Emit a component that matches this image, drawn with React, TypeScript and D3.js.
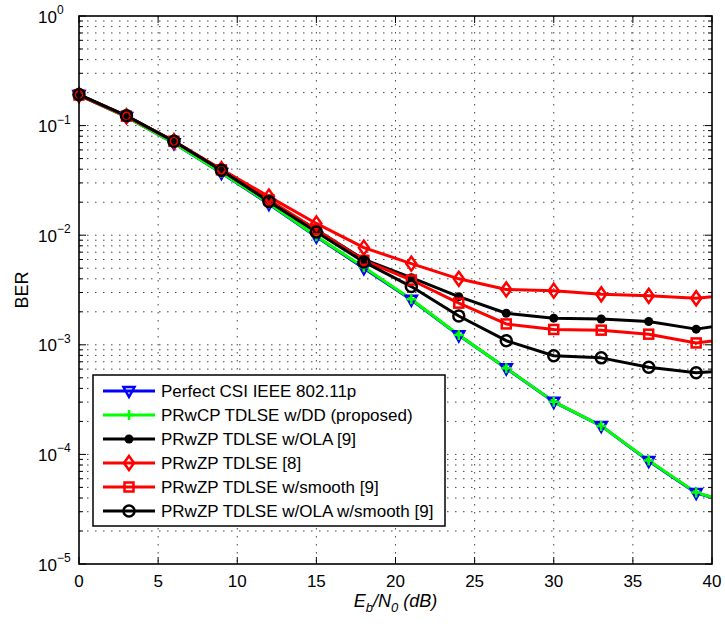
import React from "react";
import * as d3 from "d3";

// Eb/N0 points (dB); last point lies past the axis and is clipped like in the original
const snr = [0, 3, 6, 9, 12, 15, 18, 21, 24, 27, 30, 33, 36, 39, 42];

const perfectCsi = [0.19, 0.12, 0.069, 0.037, 0.0193, 0.0097, 0.005, 0.00258, 0.00122, 0.00061, 0.000302, 0.000182, 0.000087, 0.0000445, 0.0000337];
const prwcpDD = [0.19, 0.12, 0.069, 0.0372, 0.0195, 0.0098, 0.0051, 0.0026, 0.00123, 0.00061, 0.000303, 0.000182, 0.000088, 0.0000448, 0.0000338];
const prwzpOla = [0.192, 0.123, 0.072, 0.0392, 0.0205, 0.0112, 0.006, 0.0041, 0.00275, 0.00194, 0.00175, 0.00172, 0.00163, 0.00139, 0.00161];
const prwzpPlain = [0.19, 0.122, 0.072, 0.04, 0.0225, 0.0128, 0.0077, 0.0055, 0.004, 0.0032, 0.00312, 0.00289, 0.0028, 0.00266, 0.00294];
const prwzpSmooth = [0.19, 0.122, 0.072, 0.0395, 0.021, 0.0112, 0.0059, 0.0039, 0.0024, 0.00155, 0.00138, 0.00136, 0.00125, 0.00104, 0.00118];
const prwzpOlaSmooth = [0.192, 0.123, 0.072, 0.0392, 0.0203, 0.0107, 0.0057, 0.0034, 0.00183, 0.00109, 0.000795, 0.00076, 0.000623, 0.000557, 0.000593];

const legendLabels = [
  "Perfect CSI IEEE 802.11p",
  "PRwCP TDLSE w/DD (proposed)",
  "PRwZP TDLSE w/OLA [9]",
  "PRwZP TDLSE [8]",
  "PRwZP TDLSE w/smooth [9]",
  "PRwZP TDLSE w/OLA w/smooth [9]",
];
const xTicks = [0, 5, 10, 15, 20, 25, 30, 35, 40];
const yExponents = [0, -1, -2, -3, -4, -5];

const series = [
  { values: perfectCsi, color: "#0000ff", marker: "tri" },
  { values: prwcpDD, color: "#00ff00", marker: "plus" },
  { values: prwzpOla, color: "#000000", marker: "dot" },
  { values: prwzpPlain, color: "#ff0000", marker: "diamond" },
  { values: prwzpSmooth, color: "#ff0000", marker: "square" },
  { values: prwzpOlaSmooth, color: "#000000", marker: "circle" },
];

const W = 725, H = 626;
const left = 79, right = 712, top = 16, bottom = 564;
const font = "'Liberation Sans', Arial, Helvetica, sans-serif";

function Marker({ type, color, x, y }: { type: string; color: string; x: number; y: number }) {
  const sw = 2.5;
  if (type === "tri")
    return <path d={`M${x - 5.5},${y - 4}L${x + 5.5},${y - 4}L${x},${y + 6}Z`} fill="none" stroke={color} strokeWidth={sw} strokeLinejoin="miter" />;
  if (type === "plus")
    return <path d={`M${x - 5},${y}H${x + 5}M${x},${y - 5}V${y + 5}`} stroke={color} strokeWidth={sw} />;
  if (type === "dot") return <circle cx={x} cy={y} r={4.5} fill={color} />;
  if (type === "diamond")
    return <path d={`M${x},${y - 7}L${x + 5},${y}L${x},${y + 7}L${x - 5},${y}Z`} fill="none" stroke={color} strokeWidth={sw} />;
  if (type === "square")
    return <rect x={x - 4.5} y={y - 4.5} width={9} height={9} fill="none" stroke={color} strokeWidth={sw} />;
  return <circle cx={x} cy={y} r={5.5} fill="none" stroke={color} strokeWidth={sw} />;
}

export default function App() {
  const x = d3.scaleLinear().domain([0, 40]).range([left, right]);
  const y = d3.scaleLog().domain([1e-5, 1]).range([bottom, top]);
  const line = d3
    .line<[number, number]>()
    .x((d) => x(d[0]))
    .y((d) => y(d[1]));

  const minor: number[] = [];
  for (let e = -5; e < 0; e++) for (let m = 2; m <= 9; m++) minor.push(m * Math.pow(10, e));
  const major = yExponents.map((e) => Math.pow(10, e));

  const grid = "#444";
  const dash = "1.5 6.5";

  const legX = 93, legY = 375, legW = 352, legH = 151, rowH = 24;

  return (
    <svg width={W} height={H} style={{ position: "absolute", left: 0, top: 0, background: "#fff" }} fontFamily={font}>
      <defs>
        <clipPath id="plot">
          <rect x={left} y={top} width={right - left} height={bottom - top} />
        </clipPath>
      </defs>
      <rect width={W} height={H} fill="#fff" />

      {/* grid */}
      <g stroke={grid} strokeWidth={1} strokeDasharray={dash} fill="none">
        {xTicks.slice(1, -1).map((t) => (
          <line key={"gx" + t} x1={x(t)} x2={x(t)} y1={top} y2={bottom} />
        ))}
        {[...minor, ...major.slice(1, -1)].map((v, i) => (
          <line key={"gy" + i} x1={left} x2={right} y1={y(v)} y2={y(v)} />
        ))}
      </g>

      {/* ticks */}
      <g stroke="#000" strokeWidth={1}>
        {xTicks.map((t) => (
          <g key={"tx" + t}>
            <line x1={x(t)} x2={x(t)} y1={bottom} y2={bottom - 7} />
            <line x1={x(t)} x2={x(t)} y1={top} y2={top + 7} />
          </g>
        ))}
        {major.map((v, i) => (
          <g key={"ty" + i}>
            <line x1={left} x2={left + 7} y1={y(v)} y2={y(v)} />
            <line x1={right} x2={right - 7} y1={y(v)} y2={y(v)} />
          </g>
        ))}
        {minor.map((v, i) => (
          <g key={"tm" + i}>
            <line x1={left} x2={left + 4} y1={y(v)} y2={y(v)} />
            <line x1={right} x2={right - 4} y1={y(v)} y2={y(v)} />
          </g>
        ))}
      </g>

      {/* series lines */}
      <g clipPath="url(#plot)" fill="none">
        {series.map((s, i) => (
          <path key={"l" + i} d={line(snr.map((v, j) => [v, s.values[j]] as [number, number])) || ""} stroke={s.color} strokeWidth={3} strokeLinejoin="round" />
        ))}
      </g>
      {series.map((s, i) => (
        <g key={"m" + i}>
          {snr.map((v, j) =>
            v <= 40 ? <Marker key={j} type={s.marker} color={s.color} x={x(v)} y={y(s.values[j])} /> : null
          )}
        </g>
      ))}

      {/* frame */}
      <rect x={left} y={top} width={right - left} height={bottom - top} fill="none" stroke="#000" strokeWidth={1.6} />

      {/* tick labels */}
      <g fontSize={17} fill="#000">
        {xTicks.map((t) => (
          <text key={"xl" + t} x={x(t)} y={587} textAnchor="middle">
            {t}
          </text>
        ))}
        {yExponents.map((e) => (
          <text key={"yl" + e} x={38} y={y(Math.pow(10, e)) + 6.5}>
            10
            <tspan fontSize={12} dy={-8.5}>
              {e === 0 ? "0" : "\u2212" + Math.abs(e)}
            </tspan>
          </text>
        ))}
      </g>

      {/* axis titles */}
      <text x={28} y={(top + bottom) / 2} fontSize={18} textAnchor="middle" transform={`rotate(-90 28 ${(top + bottom) / 2})`}>
        BER
      </text>
      <text x={x(20)} y={607} fontSize={18} fontStyle="italic" textAnchor="middle">
        E<tspan fontSize={13} dy={5}>b</tspan>
        <tspan dy={-5}>/N</tspan>
        <tspan fontSize={13} dy={5}>0</tspan>
        <tspan dy={-5}> (dB)</tspan>
      </text>

      {/* legend */}
      <g>
        <rect x={legX} y={legY} width={legW} height={legH} fill="#fff" stroke="#000" strokeWidth={1.5} />
        {series.map((s, i) => {
          const cy = legY + 16 + i * rowH;
          return (
            <g key={"lg" + i}>
              <line x1={legX + 10} x2={legX + 62} y1={cy} y2={cy} stroke={s.color} strokeWidth={3} />
              <Marker type={s.marker} color={s.color} x={legX + 36} y={cy} />
              <text x={legX + 68} y={cy + 6} fontSize={17}>
                {legendLabels[i]}
              </text>
            </g>
          );
        })}
      </g>
    </svg>
  );
}
